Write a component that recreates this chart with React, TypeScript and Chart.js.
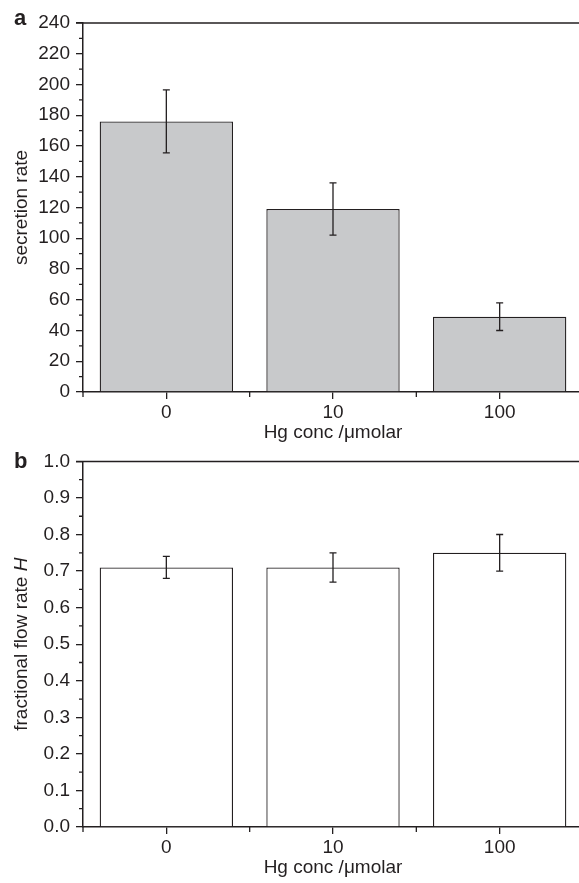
import React, { useEffect, useRef } from 'react';
import { Chart, registerables } from 'chart.js';

Chart.register(...registerables);

// ---- data ----
const categories = ['0', '10', '100'];
const secretionRate = [176, 119, 49];
const secretionErr = [20.5, 17, 9];
const flowRate = [0.71, 0.71, 0.75];
const flowErr = [0.03, 0.04, 0.05];
const secretionAxis = [0, 240, 20]; // min, max, step
const flowAxis = [0, 1, 0.1];

const FONT = '"Liberation Sans", Arial, Helvetica, sans-serif';
const INK = '#231f20';
const TICK_SIZE = 19;
const TITLE_SIZE = 19;

const errorBarPlugin = {
  id: 'errorBars',
  afterDatasetsDraw(chart: any, _args: any, opts: any) {
    const errs: number[] = opts.errors || [];
    const meta = chart.getDatasetMeta(0);
    const ys = chart.scales.y;
    const vals = chart.data.datasets[0].data as number[];
    const ctx = chart.ctx;
    ctx.save();
    ctx.strokeStyle = INK;
    ctx.lineWidth = 1.3;
    meta.data.forEach((el: any, i: number) => {
      const x = el.x;
      const t = ys.getPixelForValue(vals[i] + errs[i]);
      const b = ys.getPixelForValue(vals[i] - errs[i]);
      ctx.beginPath();
      ctx.moveTo(x, t);
      ctx.lineTo(x, b);
      ctx.moveTo(x - 3.5, t);
      ctx.lineTo(x + 3.5, t);
      ctx.moveTo(x - 3.5, b);
      ctx.lineTo(x + 3.5, b);
      ctx.stroke();
    });
    ctx.restore();
  },
};

const framePlugin = {
  id: 'frame',
  afterDraw(chart: any, _args: any, opts: any) {
    const ctx = chart.ctx;
    const { left, top, bottom } = chart.chartArea;
    const xs = chart.scales.x;
    const ys = chart.scales.y;
    ctx.save();
    ctx.strokeStyle = INK;
    ctx.lineWidth = 1.5;
    // top frame line
    ctx.beginPath();
    ctx.moveTo(left - 7, top);
    ctx.lineTo(chart.width, top);
    ctx.stroke();
    // minor y ticks
    const minor = opts.minorStep;
    ctx.lineWidth = 1.3;
    ctx.beginPath();
    for (let v = ys.min + minor; v < ys.max; v += minor * 2) {
      const y = ys.getPixelForValue(v);
      ctx.moveTo(left - 4, y);
      ctx.lineTo(left, y);
    }
    // boundary x ticks
    const n = chart.data.labels.length;
    for (let i = 0; i <= n; i++) {
      const x = xs.getPixelForValue(i - 0.5);
      ctx.moveTo(x, bottom);
      ctx.lineTo(x, bottom + 5);
    }
    ctx.stroke();
    // panel letter
    ctx.fillStyle = INK;
    ctx.font = `bold 22px ${FONT}`;
    ctx.textAlign = 'left';
    ctx.textBaseline = 'alphabetic';
    ctx.fillText(opts.letter, 14, top + opts.letterDy);
    // custom y title
    if (opts.yTitle) {
      const parts: [string, string][] = opts.yTitle;
      ctx.translate(22, (top + bottom) / 2);
      ctx.rotate(-Math.PI / 2);
      ctx.textBaseline = 'middle';
      let total = 0;
      const widths = parts.map(([txt, style]) => {
        ctx.font = `${style} ${TITLE_SIZE}px ${FONT}`;
        const w = ctx.measureText(txt).width;
        total += w;
        return w;
      });
      let x = -total / 2;
      parts.forEach(([txt, style], i) => {
        ctx.font = `${style} ${TITLE_SIZE}px ${FONT}`;
        ctx.fillText(txt, x, 0);
        x += widths[i];
      });
    }
    ctx.restore();
  },
};

function makeConfig(
  values: number[],
  errors: number[],
  axis: number[],
  fill: string,
  letter: string,
  letterDy: number,
  yTitle: string | null,
  customTitle: [string, string][] | null,
  padTop: number,
  padBottom: number,
  decimals: number
): any {
  return {
    type: 'bar',
    data: {
      labels: categories,
      datasets: [
        {
          data: values,
          backgroundColor: fill,
          borderColor: INK,
          borderWidth: 1.3,
          barPercentage: 0.8,
          categoryPercentage: 1.0,
        },
      ],
    },
    options: {
      animation: false,
      responsive: false,
      maintainAspectRatio: false,
      layout: { padding: { top: padTop, right: 17, left: 0, bottom: padBottom } },
      plugins: {
        legend: { display: false },
        tooltip: { enabled: false },
        errorBars: { errors },
        frame: { minorStep: axis[2] / 2, letter, letterDy, yTitle: customTitle },
      },
      scales: {
        x: {
          offset: true,
          grid: { offset: false, drawOnChartArea: false, drawTicks: true, tickLength: 7, color: INK, lineWidth: 1.3 },
          border: { display: true, color: INK, width: 1.5 },
          ticks: { font: { family: FONT, size: TICK_SIZE }, color: INK, padding: 2 },
          title: {
            display: true,
            text: 'Hg conc /\u03bcmolar',
            font: { family: FONT, size: TITLE_SIZE },
            color: INK,
            padding: { top: 0, bottom: 0 },
          },
          afterFit: (s: any) => {
            s.height = 52;
          },
        },
        y: {
          min: axis[0],
          max: axis[1],
          ticks: {
            stepSize: axis[2],
            font: { family: FONT, size: TICK_SIZE },
            color: INK,
            padding: 6,
            callback: (v: any) => Number(v).toFixed(decimals),
          },
          grid: { drawOnChartArea: false, drawTicks: true, tickLength: 7, color: INK, lineWidth: 1.3 },
          border: { display: true, color: INK, width: 1.5 },
          title: {
            display: !!yTitle,
            text: yTitle || '',
            font: { family: FONT, size: TITLE_SIZE },
            color: INK,
            padding: { top: 10, bottom: 0 },
          },
          afterFit: (s: any) => {
            s.width = 83;
          },
        },
      },
    },
    plugins: [errorBarPlugin, framePlugin],
  };
}

export default function App() {
  const refA = useRef<HTMLCanvasElement>(null);
  const refB = useRef<HTMLCanvasElement>(null);

  useEffect(() => {
    document.body.style.margin = '0';
    const a = new Chart(
      refA.current as HTMLCanvasElement,
      makeConfig(secretionRate, secretionErr, secretionAxis, '#c8c9cb', 'a', 2, 'secretion rate', null, 23, 0, 0)
    );
    const b = new Chart(
      refB.current as HTMLCanvasElement,
      makeConfig(
        flowRate,
        flowErr,
        flowAxis,
        '#ffffff',
        'b',
        7,
        null,
        [
          ['fractional flow rate ', 'normal'],
          ['H', 'italic'],
        ],
        15,
        4,
        1
      )
    );
    return () => {
      a.destroy();
      b.destroy();
    };
  }, []);

  return (
    <div style={{ position: 'relative', width: 579, height: 883, overflow: 'hidden', background: '#fff' }}>
      <canvas ref={refA} width={600} height={444} style={{ position: 'absolute', left: 0, top: 0, width: 600, height: 444 }} />
      <canvas ref={refB} width={600} height={439} style={{ position: 'absolute', left: 0, top: 444, width: 600, height: 439 }} />
    </div>
  );
}
